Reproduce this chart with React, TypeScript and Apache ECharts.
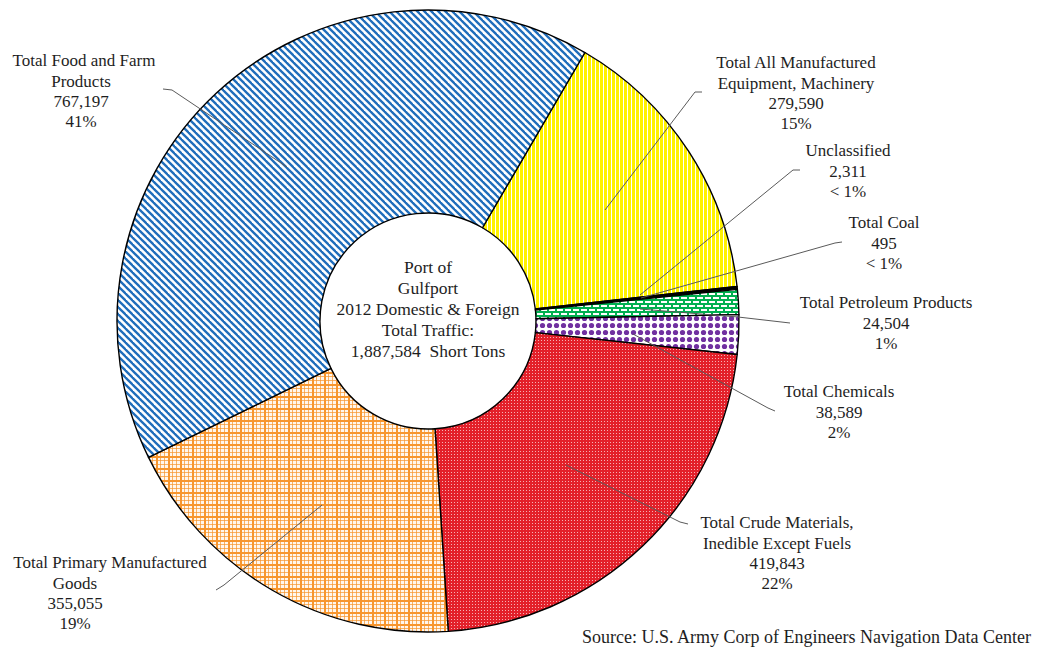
import React, { useEffect, useRef } from "react";
import * as echarts from "echarts";

// ---------------- data ----------------
const categories = [
  "Total All Manufactured\nEquipment, Machinery",
  "Unclassified",
  "Total Coal",
  "Total Petroleum Products",
  "Total Chemicals",
  "Total Crude Materials,\nInedible Except Fuels",
  "Total Primary Manufactured\nGoods",
  "Total Food and Farm\nProducts",
];
const values = [279590, 2311, 495, 24504, 38589, 419843, 355055, 767197];
const totalTons = 1887584;
const centerTitle = ["Port of", "Gulfport", "2012 Domestic & Foreign", "Total Traffic:"];
const totalUnit = "Short Tons";
const sourceNote = "Source: U.S. Army Corp of Engineers Navigation Data Center";

// ---------------- layout (label anchor = centre x of first line, centre x of other lines, first line centre y) ----------------
const labelAnchors: [number, number, number][] = [
  [796, 796, 63],
  [848, 848, 151],
  [884, 884, 223],
  [886, 886, 303],
  [839, 839, 392],
  [777, 777, 523],
  [110, 75, 563],
  [84, 81, 61],
];
const leaderLines: [number, number][][] = [
  [[702, 92], [695, 92], [605, 210]],
  [[800, 170], [793, 170], [640, 295]],
  [[842, 242], [835, 243], [641, 298]],
  [[790, 323], [738, 317], [640, 309]],
  [[775, 411], [768, 408], [633, 334]],
  [[688, 524], [680, 522], [566, 465]],
  [[216, 590], [224, 585], [322, 505]],
  [[163, 89], [172, 90], [287, 167]],
];

const FONT = "'Liberation Serif', 'Times New Roman', serif";
const TEXT_COLOR = "#1e1e1e";
const LINE_H = 20.3;

function fmt(n: number) {
  return n.toString().replace(/\B(?=(\d{3})+(?!\d))/g, ",");
}

function tile(w: number, h: number, draw: (ctx: CanvasRenderingContext2D) => void) {
  const c = document.createElement("canvas");
  c.width = w;
  c.height = h;
  const ctx = c.getContext("2d") as CanvasRenderingContext2D;
  draw(ctx);
  return { image: c, repeat: "repeat", imageWidth: w, imageHeight: h } as any;
}

function makePatterns() {
  const blue = tile(7, 7, (ctx) => {
    ctx.fillStyle = "#ffffff";
    ctx.fillRect(0, 0, 7, 7);
    ctx.strokeStyle = "#1f6dbb";
    ctx.lineWidth = 2.3;
    for (const x0 of [-7, 0, 7]) {
      ctx.beginPath();
      ctx.moveTo(x0 - 1, -1);
      ctx.lineTo(x0 + 8, 8);
      ctx.stroke();
    }
  });
  const yellow = tile(4, 4, (ctx) => {
    ctx.fillStyle = "#fff200";
    ctx.fillRect(0, 0, 4, 4);
    ctx.fillStyle = "#ffffff";
    ctx.fillRect(3, 0, 1, 4);
  });
  const black = "#000000";
  const green = tile(8, 8, (ctx) => {
    ctx.fillStyle = "#00b050";
    ctx.fillRect(0, 0, 8, 8);
    ctx.fillStyle = "#ffffff";
    ctx.fillRect(1, 1, 6, 2);
    ctx.fillRect(5, 5, 3, 2);
    ctx.fillRect(0, 5, 3, 2);
  });
  const purple = tile(7, 7, (ctx) => {
    ctx.fillStyle = "#ffffff";
    ctx.fillRect(0, 0, 7, 7);
    ctx.fillStyle = "#7030a0";
    ctx.beginPath();
    ctx.arc(3.5, 3.5, 2.6, 0, Math.PI * 2);
    ctx.fill();
  });
  const red = tile(3, 3, (ctx) => {
    ctx.fillStyle = "#e3202a";
    ctx.fillRect(0, 0, 3, 3);
    ctx.fillStyle = "rgba(255,255,255,0.65)";
    ctx.fillRect(1, 1, 1, 1);
  });
  const orange = tile(12, 12, (ctx) => {
    ctx.fillStyle = "#fff6ec";
    ctx.fillRect(0, 0, 12, 12);
    ctx.fillStyle = "rgba(247,150,46,0.7)";
    for (const p of [4, 8]) {
      ctx.fillRect(p, 0, 1, 12);
      ctx.fillRect(0, p, 12, 1);
    }
    ctx.fillStyle = "#f7962e";
    ctx.fillRect(0, 0, 2, 12);
    ctx.fillRect(0, 0, 12, 2);
  });
  return [yellow, black, black, green, purple, red, orange, blue];
}

export default function App() {
  const ref = useRef<HTMLDivElement>(null);
  useEffect(() => {
    if (!ref.current) return;
    const chart = echarts.init(ref.current, null, { renderer: "svg" });
    const patterns = makePatterns();
    const total = values.reduce((a, b) => a + b, 0);

    const graphics: any[] = [];
    categories.forEach((name, i) => {
      const pct = (values[i] / total) * 100;
      const pctText = pct < 1 ? "< 1%" : Math.round(pct) + "%";
      const [cx1, cx2, cy] = labelAnchors[i];
      const nameLines = name.split("\n");
      const restLines = [...nameLines.slice(1), fmt(values[i]), pctText];
      graphics.push({
        type: "polyline",
        silent: true,
        shape: { points: leaderLines[i] },
        style: { stroke: "#5a5a5a", lineWidth: 1, fill: null },
        z: 10,
      });
      graphics.push({
        type: "text",
        x: cx1,
        y: cy - LINE_H / 2,
        silent: true,
        style: {
          text: nameLines[0],
          font: `17px ${FONT}`,
          fill: TEXT_COLOR,
          align: "center",
          verticalAlign: "top",
          lineHeight: LINE_H,
        },
        z: 11,
      });
      graphics.push({
        type: "text",
        x: cx2,
        y: cy + LINE_H / 2,
        silent: true,
        style: {
          text: restLines.join("\n"),
          font: `17px ${FONT}`,
          fill: TEXT_COLOR,
          align: "center",
          verticalAlign: "top",
          lineHeight: LINE_H,
        },
        z: 11,
      });
    });
    graphics.push({
      type: "text",
      x: 428,
      y: 257,
      silent: true,
      style: {
        text: [...centerTitle, fmt(totalTons) + "  " + totalUnit].join("\n"),
        font: `17.5px ${FONT}`,
        fill: TEXT_COLOR,
        align: "center",
        verticalAlign: "top",
        lineHeight: 20.8,
      },
      z: 11,
    });
    graphics.push({
      type: "text",
      x: 1031,
      y: 637,
      silent: true,
      style: {
        text: sourceNote,
        font: `18px ${FONT}`,
        fill: TEXT_COLOR,
        align: "right",
        verticalAlign: "middle",
      },
      z: 11,
    });

    chart.setOption({
      animation: false,
      backgroundColor: "#ffffff",
      series: [
        {
          type: "pie",
          center: [428, 321],
          radius: [108, 311],
          startAngle: 59.7,
          clockwise: true,
          silent: true,
          avoidLabelOverlap: false,
          label: { show: false },
          labelLine: { show: false },
          emphasis: { disabled: true },
          itemStyle: { borderColor: "#000000", borderWidth: 1.4 },
          data: categories.map((name, i) => ({
            name,
            value: values[i],
            itemStyle: { color: patterns[i] },
          })),
        },
      ],
      graphic: graphics,
    });
    return () => chart.dispose();
  }, []);
  return (
    <div
      ref={ref}
      style={{ position: "fixed", left: 0, top: 0, width: 1037, height: 652 }}
    />
  );
}
